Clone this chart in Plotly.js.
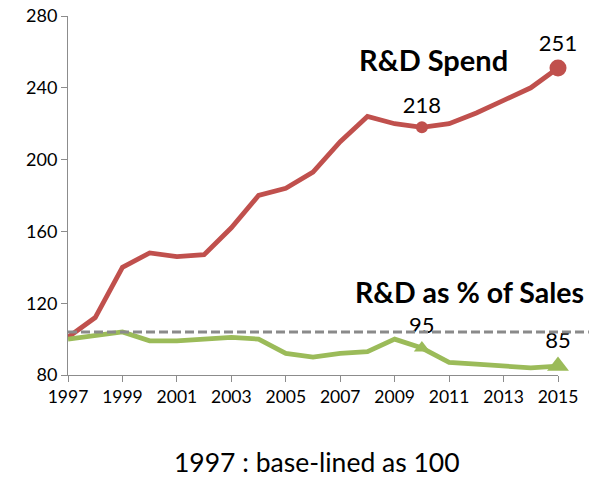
<!DOCTYPE html>
<html>
<head>
<meta charset="utf-8">
<script src="https://cdn.plot.ly/plotly-3.0.1.min.js"></script>
<style>
  html, body { margin: 0; padding: 0; background: #fff; }
  #chart { width: 589px; height: 481px; }
</style>
</head>
<body>
<div id="chart"></div>
<script>
// Index values, 1997 = 100
const years = [1997, 1998, 1999, 2000, 2001, 2002, 2003, 2004, 2005, 2006,
               2007, 2008, 2009, 2010, 2011, 2012, 2013, 2014, 2015];
const rdSpend = [101, 112, 140, 148, 146, 147, 162, 180, 184, 193,
                 210, 224, 220, 218, 220, 226, 233, 240, 251];
const rdPctSales = [100, 102, 104, 99, 99, 100, 101, 100, 92, 90,
                    92, 93, 100, 95, 87, 86, 85, 84, 85];
const baseline = 104;

const xTicks = [1997, 1999, 2001, 2003, 2005, 2007, 2009, 2011, 2013, 2015];
const yTicks = [80, 120, 160, 200, 240, 280];

// Highlighted points: 2010 and 2015
const hiYears = [2010, 2015];
const idx = hiYears.map(y => years.indexOf(y));
const spendHi = idx.map(i => rdSpend[i]);
const salesHi = idx.map(i => rdPctSales[i]);

const RED = '#C0504D';
const GREEN = '#9BBB59';
const FONT = 'Lato, "Open Sans", sans-serif';

const traces = [
  {
    x: years, y: rdSpend, type: 'scatter', mode: 'lines',
    line: {color: RED, width: 4.8}, cliponaxis: false, hoverinfo: 'skip'
  },
  {
    x: years, y: rdPctSales, type: 'scatter', mode: 'lines',
    line: {color: GREEN, width: 4.8}, cliponaxis: false, hoverinfo: 'skip'
  },
  {
    x: hiYears, y: spendHi, type: 'scatter', mode: 'markers+text',
    marker: {color: RED, size: [12, 17], symbol: 'circle', opacity: 1,
             line: {width: 0}},
    text: spendHi.map(String), textposition: 'top center',
    textfont: {family: FONT, size: 22, color: '#000'},
    cliponaxis: false
  },
  {
    x: hiYears, y: salesHi, type: 'scatter', mode: 'markers+text',
    marker: {color: GREEN, size: [14, 19], symbol: 'triangle-up', opacity: 1,
             line: {width: 0}},
    text: salesHi.map(String), textposition: 'top center',
    textfont: {family: FONT, size: 22, color: '#000'},
    cliponaxis: false
  }
];

const layout = {
  width: 589, height: 481,
  margin: {l: 68, r: 31, t: 16, b: 106},
  paper_bgcolor: '#fff', plot_bgcolor: '#fff',
  showlegend: false,
  font: {family: FONT, size: 18, color: '#000'},
  xaxis: {
    range: [1997, 2015], tickvals: xTicks, ticktext: xTicks.map(String),
    showgrid: false, zeroline: false,
    showline: true, linecolor: '#8c8c8c', linewidth: 1,
    ticks: 'outside', ticklen: 6, tickcolor: '#8c8c8c',
    tickfont: {family: FONT, size: 17.5, color: '#000'}
  },
  yaxis: {
    range: [80, 280], tickvals: yTicks,
    showgrid: false, zeroline: false,
    showline: true, linecolor: '#8c8c8c', linewidth: 1,
    ticks: 'outside', ticklen: 6, tickcolor: '#8c8c8c',
    tickfont: {family: FONT, size: 18, color: '#000'}
  },
  shapes: [
    {
      type: 'line', xref: 'paper', yref: 'y',
      x0: 0, x1: 1.063, y0: baseline, y1: baseline,
      line: {color: '#8a8a8a', width: 3, dash: '9px,4px'},
      layer: 'above'
    }
  ],
  annotations: [
    {
      xref: 'x', yref: 'y', x: 2010.44, y: 255.5, text: '<b>R&amp;D Spend</b>',
      showarrow: false, font: {family: FONT, size: 29, color: '#000'}
    },
    {
      xref: 'paper', yref: 'y', x: 1.057, xanchor: 'right', y: 126,
      text: '<b>R&amp;D as % of Sales</b>',
      showarrow: false, font: {family: FONT, size: 28.5, color: '#000'}
    },
    {
      xref: 'paper', yref: 'paper', x: 0.509, y: -0.2925, yanchor: 'bottom',
      text: '1997 : base-lined as 100', showarrow: false,
      font: {family: FONT, size: 26.5, color: '#000'}
    }
  ]
};

Plotly.newPlot('chart', traces, layout, {staticPlot: true, displayModeBar: false});
</script>
</body>
</html>
